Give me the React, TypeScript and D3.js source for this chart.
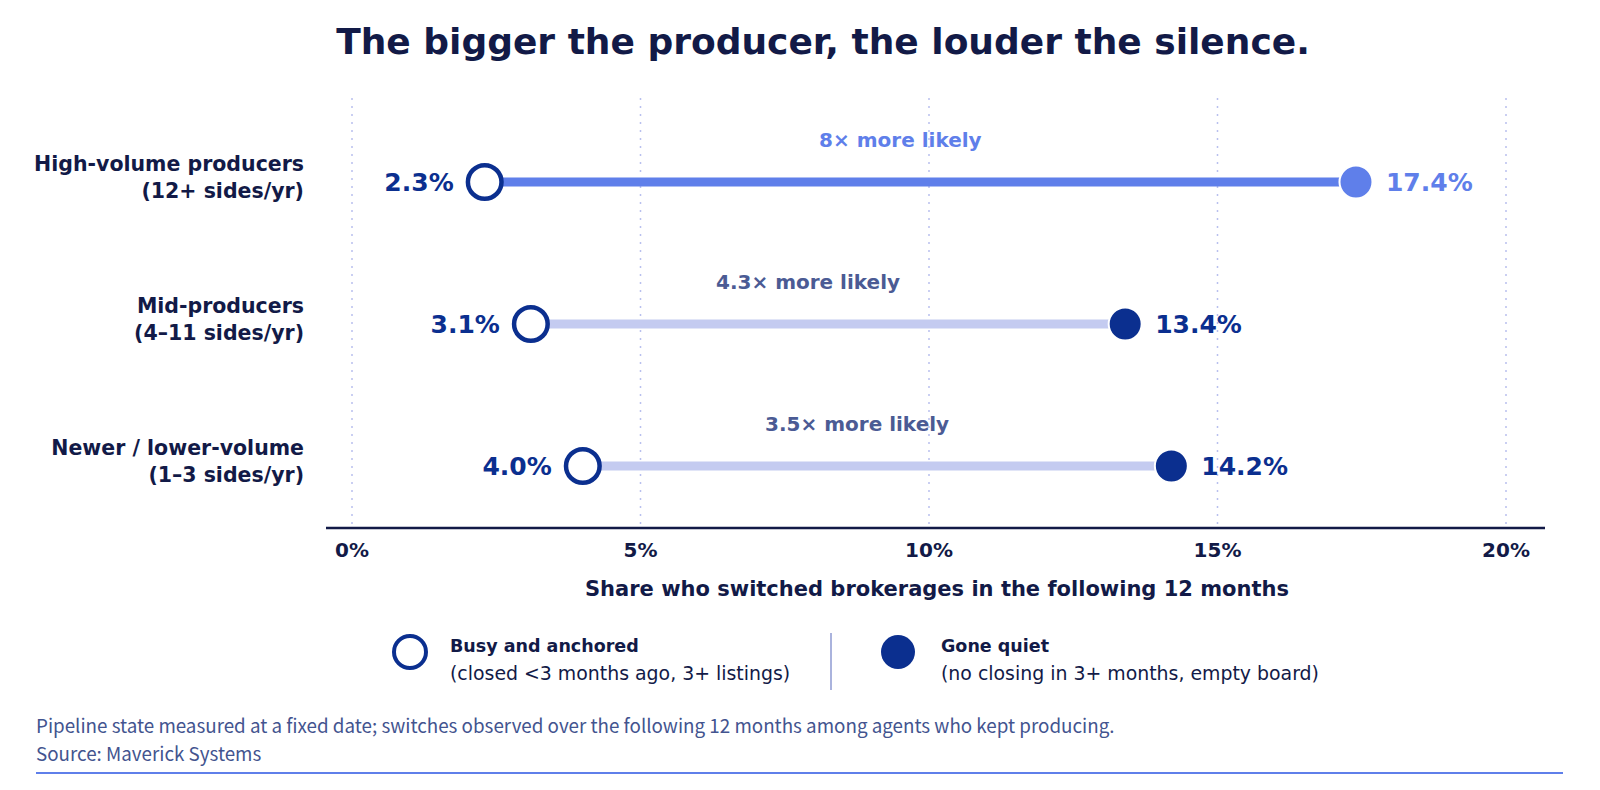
import React from "react";
import * as d3 from "d3";

const categories = ["High-volume producers", "Mid-producers", "Newer / lower-volume"];
const subLabels = ["(12+ sides/yr)", "(4–11 sides/yr)", "(1–3 sides/yr)"];
const busyValues = [2.3, 3.1, 4.0];
const quietValues = [17.4, 13.4, 14.2];
const ratioLabels = ["8× more likely", "4.3× more likely", "3.5× more likely"];
const highlighted = [true, false, false];
const xTicks = [0, 5, 10, 15, 20];

const W = 1600;
const H = 790;
const FONT = "'DejaVu Sans', sans-serif";
const NAVY = "#121a47";
const DARK = "#0b2f8f";
const ACCENT = "#5f7fea";
const LIGHT = "#c4cbf0";
const SLATE = "#4b5b94";
const GRID = "#b9c0ee";

export default function App() {
  const x = d3.scaleLinear().domain([0, 20]).range([352, 1506]);
  const y = d3.scalePoint<string>().domain(categories).range([182, 466]);
  const axisY = 528;
  const gridTop = 98;

  return (
    <svg width={W} height={H} viewBox={`0 0 ${W} ${H}`} style={{ display: "block", position: "absolute", left: 0, top: 0, background: "#fff" }}>
      <rect x={0} y={0} width={W} height={H} fill="#fff" />
      <text x={823} y={54} textAnchor="middle" fontFamily={FONT} fontWeight="bold" fontSize={36} fill={NAVY}>
        The bigger the producer, the louder the silence.
      </text>

      {xTicks.map((t) => (
        <line key={"g" + t} x1={x(t)} x2={x(t)} y1={gridTop} y2={axisY} stroke={GRID} strokeWidth={1.5} strokeDasharray="2,6" />
      ))}

      <line x1={326} x2={1545} y1={axisY} y2={axisY} stroke={NAVY} strokeWidth={2.5} />
      {xTicks.map((t) => (
        <text key={"t" + t} x={x(t)} y={557} textAnchor="middle" fontFamily={FONT} fontWeight="bold" fontSize={20} fill={NAVY}>
          {t + "%"}
        </text>
      ))}
      <text x={937} y={596} textAnchor="middle" fontFamily={FONT} fontWeight="bold" fontSize={21} fill={NAVY}>
        Share who switched brokerages in the following 12 months
      </text>

      {categories.map((c, i) => {
        const cy = y(c) as number;
        const x0 = x(busyValues[i]);
        const x1 = x(quietValues[i]);
        const hi = highlighted[i];
        const endColor = hi ? ACCENT : DARK;
        return (
          <g key={c}>
            <text x={304} y={cy - 11} textAnchor="end" fontFamily={FONT} fontWeight="bold" fontSize={20.5} fill={NAVY}>{c}</text>
            <text x={304} y={cy + 16} textAnchor="end" fontFamily={FONT} fontWeight="bold" fontSize={20.5} fill={NAVY}>{subLabels[i]}</text>
            <line x1={x0} x2={x1} y1={cy} y2={cy} stroke={hi ? ACCENT : LIGHT} strokeWidth={9} />
            <circle cx={x1} cy={cy} r={16.5} fill={endColor} stroke="#fff" strokeWidth={2} />
            <circle cx={x0} cy={cy} r={16.8} fill="#fff" stroke={DARK} strokeWidth={4.5} />
            <text x={x0 - 31} y={cy + 9} textAnchor="end" fontFamily={FONT} fontWeight="bold" fontSize={25} fill={DARK}>
              {busyValues[i].toFixed(1) + "%"}
            </text>
            <text x={x1 + 30} y={cy + 9} textAnchor="start" fontFamily={FONT} fontWeight="bold" fontSize={25} fill={endColor}>
              {quietValues[i].toFixed(1) + "%"}
            </text>
            <text x={(x0 + x1) / 2 - 20} y={cy - 35} textAnchor="middle" fontFamily={FONT} fontWeight="bold" fontSize={20} fill={hi ? ACCENT : SLATE}>
              {ratioLabels[i]}
            </text>
          </g>
        );
      })}

      <g>
        <circle cx={410} cy={652} r={16} fill="#fff" stroke={DARK} strokeWidth={4} />
        <text x={450} y={652} fontFamily={FONT} fontWeight="bold" fontSize={17.5} fill={NAVY}>Busy and anchored</text>
        <text x={450} y={680} fontFamily={FONT} fontSize={18.9} fill={NAVY}>(closed &lt;3 months ago, 3+ listings)</text>
        <line x1={831} x2={831} y1={633} y2={690} stroke="#aab3dd" strokeWidth={2} />
        <circle cx={898} cy={652} r={17} fill={DARK} />
        <text x={941} y={652} fontFamily={FONT} fontWeight="bold" fontSize={17.5} fill={NAVY}>Gone quiet</text>
        <text x={941} y={680} fontFamily={FONT} fontSize={18.9} fill={NAVY}>(no closing in 3+ months, empty board)</text>
      </g>

      <text x={36} y={733} fontFamily="'Noto Sans CJK SC', sans-serif" fontSize={18.8} fill="#43548f">
        Pipeline state measured at a fixed date; switches observed over the following 12 months among agents who kept producing.
      </text>
      <text x={36} y={761} fontFamily="'Noto Sans CJK SC', sans-serif" fontSize={18.8} fill="#43548f">
        Source: Maverick Systems
      </text>
      <line x1={36} x2={1563} y1={773} y2={773} stroke={ACCENT} strokeWidth={2} />
    </svg>
  );
}
